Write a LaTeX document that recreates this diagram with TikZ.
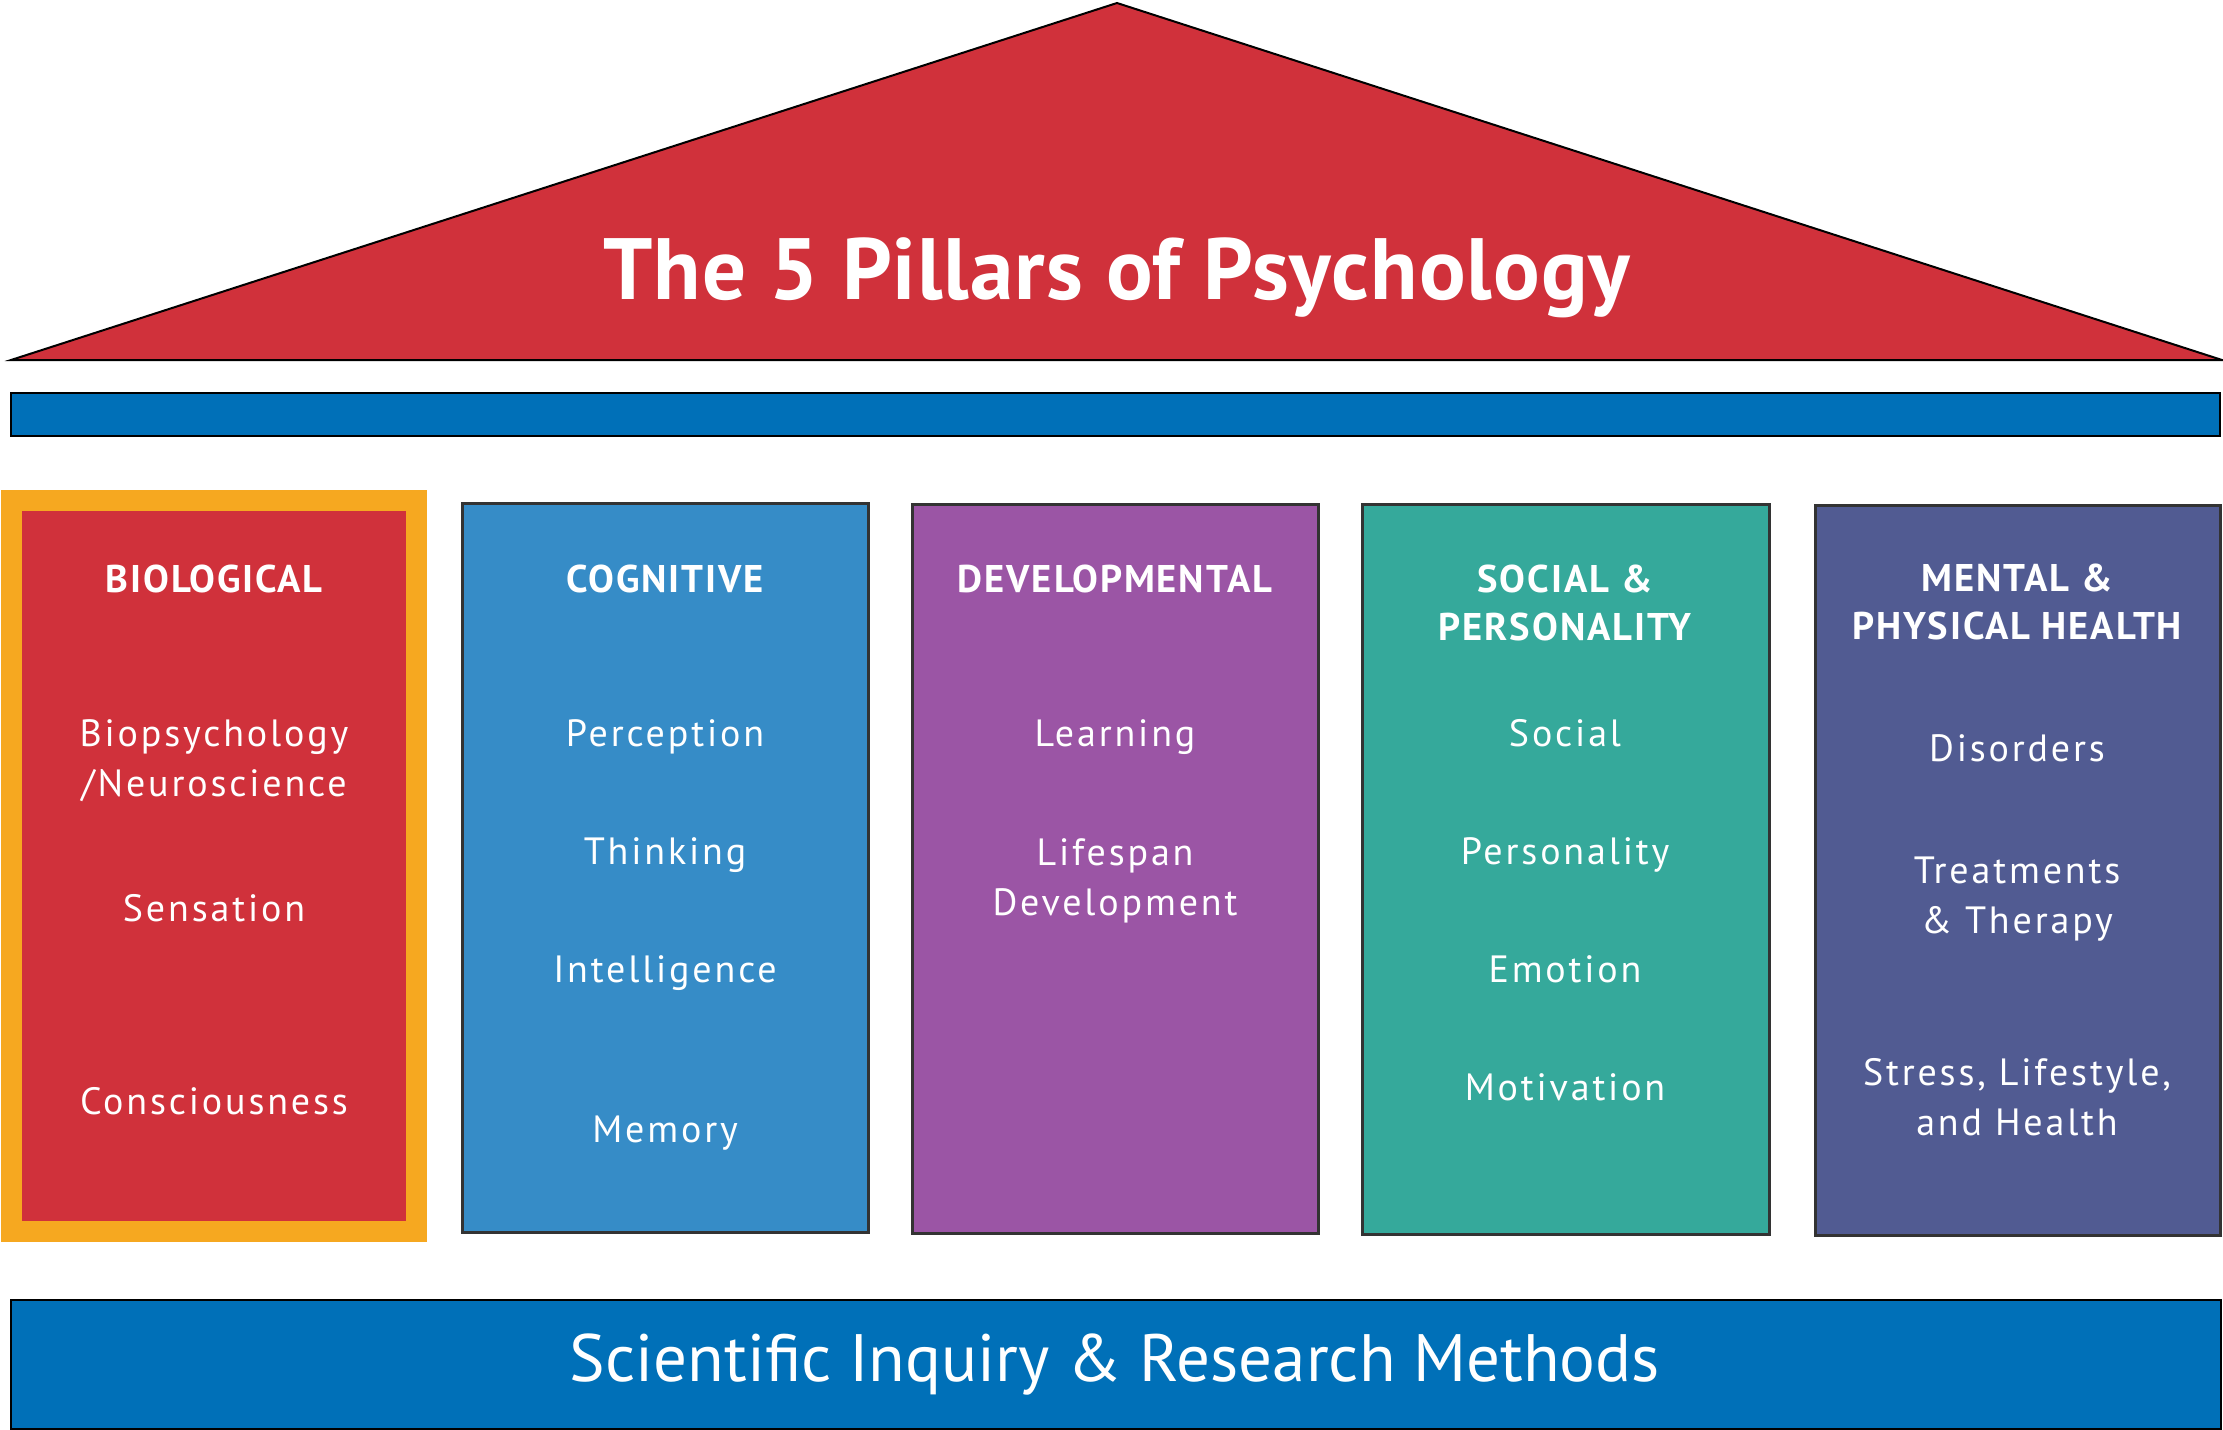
\documentclass[tikz,border=0pt]{standalone}
\usepackage{fontspec}
\setmainfont{PT Sans}
\newfontfamily\itemfont[LetterSpace=7.5]{PT Sans}
\newfontfamily\headfont[LetterSpace=5]{PT Sans}
\newfontfamily\titlefont[LetterSpace=1.2]{PT Sans}
\usepackage{tikz}

\definecolor{roofred}{HTML}{D0313B}
\definecolor{beamblue}{HTML}{0070B8}
\definecolor{bioorange}{HTML}{F6A820}
\definecolor{cogblue}{HTML}{368CC7}
\definecolor{devpurple}{HTML}{9B55A5}
\definecolor{socteal}{HTML}{35A99B}
\definecolor{healthblue}{HTML}{515B92}
\definecolor{pillarline}{HTML}{333333}

\begin{document}
\begin{tikzpicture}[x=0.5pt,y=-0.5pt,
  every node/.style={text=white,inner sep=0pt},
  head/.style={font=\headfont\bfseries\fontsize{19.3}{24}\selectfont,align=center,anchor=base},
  item/.style={font=\itemfont\fontsize{19}{25}\selectfont,align=center,anchor=base},
  pillar/.style={draw=pillarline,line width=1.5pt}]
\useasboundingbox (0,0) rectangle (2223,1430);
\filldraw[fill=roofred,draw=black,line width=1pt] (11,360)--(1117,3)--(2222,360)--cycle;
\filldraw[fill=beamblue,draw=black,line width=1pt] (11,393) rectangle (2220,436);
\filldraw[fill=beamblue,draw=black,line width=1.25pt] (11,1300) rectangle (2221,1429);
\fill[bioorange] (1,490) rectangle (427,1242);
\fill[roofred] (22,511) rectangle (406,1221);
\filldraw[pillar,fill=cogblue] (462,503) rectangle (868,1232);
\filldraw[pillar,fill=devpurple] (912,504) rectangle (1318,1233);
\filldraw[pillar,fill=socteal] (1362,504.5) rectangle (1769,1234);
\filldraw[pillar,fill=healthblue] (1815,505.5) rectangle (2220,1235);
\node[anchor=base,font=\titlefont\bfseries\fontsize{43.5}{50}\selectfont] (title) at (1117,299) {The 5 Pillars of Psychology};
\node[anchor=base,font=\fontsize{33.5}{40}\selectfont] (methods) at (1115,1381) {Scientific Inquiry \& Research Methods};
\node[head] (bio) at (214,592) {BIOLOGICAL};
\node[item] (biopsy) at (214,796) {Biopsychology\\/Neuroscience};
\node[item] (sensation) at (214,921) {Sensation};
\node[item] (conscious) at (214,1114) {Consciousness};
\node[head] (cog) at (665,592) {COGNITIVE};
\node[item] (perception) at (665,746) {Perception};
\node[item] (thinking) at (665,864) {Thinking};
\node[item] (intelligence) at (665,982) {Intelligence};
\node[item] (memory) at (665,1142) {Memory};
\node[head] (dev) at (1115,592) {DEVELOPMENTAL};
\node[item] (learning) at (1115,746) {Learning};
\node[item] (lifespan) at (1115,915) {Lifespan\\Development};
\node[head] (soc) at (1565,640) {SOCIAL \&\\PERSONALITY};
\node[item] (social) at (1565,746) {Social};
\node[item] (personality) at (1565,864) {Personality};
\node[item] (emotion) at (1565,982) {Emotion};
\node[item] (motivation) at (1565,1100) {Motivation};
\node[head] (health) at (2017,639) {MENTAL \&\\PHYSICAL HEALTH};
\node[item] (disorders) at (2017,761) {Disorders};
\node[item] (therapy) at (2017,933) {Treatments\\\& Therapy};
\node[item] (stress) at (2017,1135) {Stress, Lifestyle,\\and Health};
\end{tikzpicture}
\end{document}
